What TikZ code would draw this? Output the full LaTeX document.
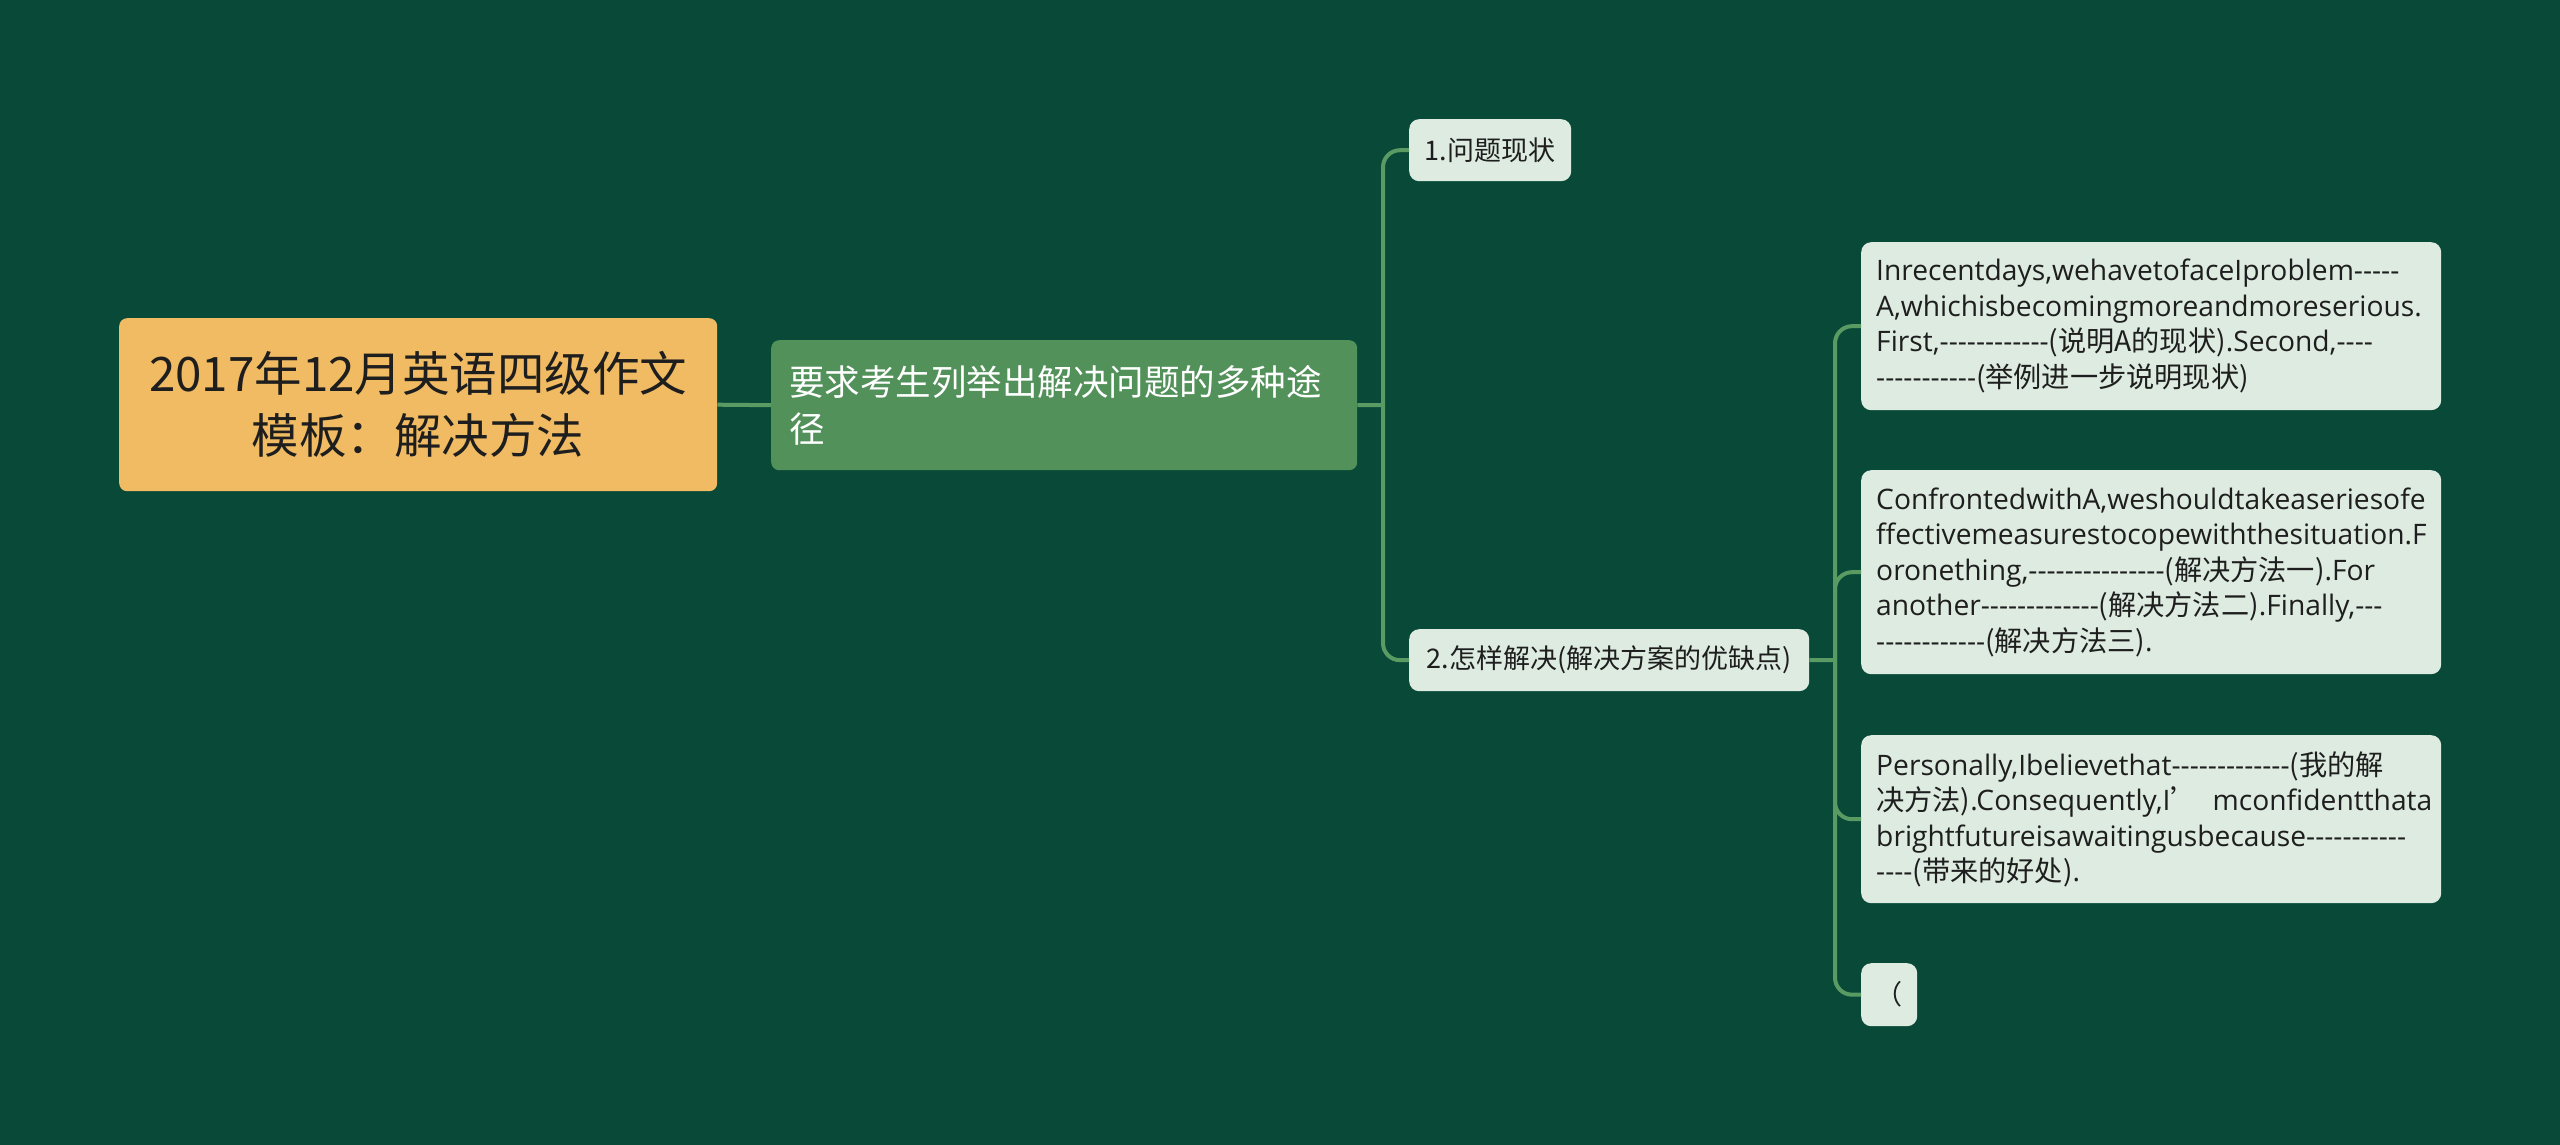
\documentclass[tikz,border=0pt]{standalone}
\usepackage{fontspec}
\newfontfamily\cjk{Noto Sans CJK SC}
\newfontfamily\latfont{Open Sans}
\newcommand\C[1]{{\cjk #1}}
\hyphenpenalty=10000
\exhyphenpenalty=10000
\definecolor{bg}{RGB}{8,73,56}
\definecolor{conncol}{RGB}{90,155,100}
\definecolor{rootfill}{RGB}{240,187,98}
\definecolor{secfill}{RGB}{83,145,91}
\definecolor{leaffill}{RGB}{221,235,224}
\definecolor{txt}{RGB}{30,30,30}
\tikzset{
  conn/.style={draw=conncol, line width=4pt},
  rootbox/.style={fill=rootfill, rounded corners=8pt, anchor=north west, inner sep=0pt,
    align=center, text=txt, font=\cjk\fontsize{47.5}{62}\selectfont},
  secbox/.style={fill=secfill, rounded corners=8pt, anchor=north west, inner xsep=18pt, inner ysep=0pt,
    align=left, text=white, font=\cjk\fontsize{35.5}{47}\selectfont},
  midbox/.style={fill=leaffill, rounded corners=10pt, anchor=north west, inner sep=0pt,
    align=center, text=txt, font=\cjk\fontsize{27}{35}\selectfont},
  leafbox/.style={fill=leaffill, rounded corners=10pt, anchor=north west, inner xsep=15pt, inner ysep=0pt,
    text width=550pt, align=left, text=txt, font=\latfont\fontsize{28.2}{35.5}\selectfont},
}
\begin{document}
\begin{tikzpicture}[x=1pt,y=-1pt]
\fill[bg] (0,0) rectangle (2560,1145);
\useasboundingbox (0,0) rectangle (2560,1145);

\node[rootbox, minimum width=598pt, minimum height=173pt] (root) at (119,318)
  {2017年12月英语四级作文\\模板：解决方法};
\node[secbox, text width=550pt, minimum height=130pt] (sec) at (771,340)
  {要求考生列举出解决问题的多种途\\径};
\node[midbox, minimum width=162pt, minimum height=62pt] (n1) at (1409,119) {1.问题现状};
\node[midbox, minimum width=400pt, minimum height=62pt] (n2) at (1409,629) {2.怎样解决(解决方案的优缺点)};

\node[leafbox, minimum height=168pt] (l1) at (1861,242)
  {Inrecentdays,wehavetofaceIproblem-----\\
   A,whichisbecomingmoreandmoreserious.\\
   First,------------\C{(说明A的现状)}.Second,----\\
   -----------\C{(举例进一步说明现状)}};
\node[leafbox, minimum height=204pt] (l2) at (1861,470)
  {ConfrontedwithA,weshouldtakeaseriesofe\\
   ffectivemeasurestocopewiththesituation.F\\
   oronething,---------------\C{(解决方法一)}.For\\
   another-------------\C{(解决方法二)}.Finally,---\\
   ------------\C{(解决方法三)}.};
\node[leafbox, minimum height=168pt] (l3) at (1861,735)
  {Personally,Ibelievethat-------------\C{(我的解}\\
   \mbox{\C{决方法)}.Consequently,I\C{’}\kern14pt mconfidentthata}\\
   brightfutureisawaitingusbecause-----------\\
   ----\C{(带来的好处)}.};
\node[midbox, minimum width=56pt, minimum height=63pt] (l4) at (1861,963) {（};

\coordinate (j0) at (1383,405);
\coordinate (j1) at (1835,660);

\draw[conn] (root.east) -- (sec.west);
\draw[conn] (sec.east) -- (j0);
\draw[conn, rounded corners=17pt] (j0) |- (n1.west);
\draw[conn, rounded corners=17pt] (j0) |- (n2.west);
\draw[conn] (n2.east) -- (j1);
\draw[conn, rounded corners=17pt] (j1) |- (l1.west);
\draw[conn, rounded corners=17pt] (j1) |- (l2.west);
\draw[conn, rounded corners=17pt] (j1) |- (l3.west);
\draw[conn, rounded corners=17pt] (j1) |- (l4.west);
\end{tikzpicture}
\end{document}
